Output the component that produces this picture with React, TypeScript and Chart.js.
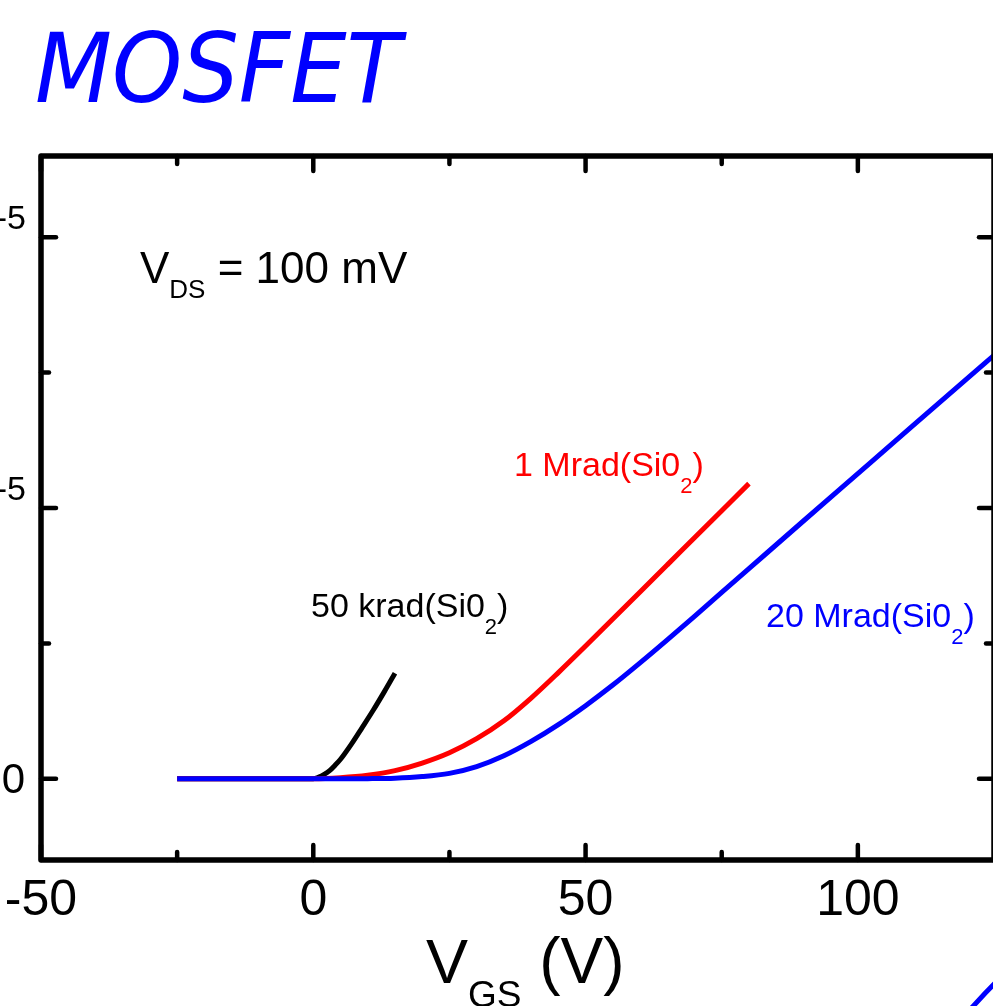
import React, { useEffect, useRef } from "react";
import { Chart, registerables } from "chart.js";

Chart.register(...registerables);

// Drain current I_D in units of 1e-5 A versus gate voltage V_GS (V)
const blackVgs = [-25, -15, -5, 0, 1, 2, 3, 4, 5, 7, 9, 11, 13, 15];
const blackId = [0, 0, 0, 0, 0.006, 0.016, 0.03, 0.05, 0.072, 0.128, 0.19, 0.253, 0.32, 0.39];

const redVgs = [-25, -10, 0, 5, 10, 15, 20, 25, 30, 35, 40, 45, 50, 55, 60, 65, 70, 75, 80];
const redId = [0, 0, 0, 0.004, 0.013, 0.03, 0.058, 0.096, 0.148, 0.214, 0.298, 0.392, 0.49, 0.59, 0.69, 0.79, 0.89, 0.99, 1.09];

const blueVgs = [-25, -10, 0, 10, 15, 20, 25, 30, 35, 40, 45, 50, 55, 60, 65, 70, 75, 80, 90, 100, 110, 120, 125];
const blueId = [0, 0, 0, 0.0005, 0.002, 0.008, 0.02, 0.045, 0.085, 0.138, 0.2, 0.27, 0.346, 0.428, 0.513, 0.6, 0.688, 0.776, 0.952, 1.127, 1.302, 1.477, 1.564];

const xMajorTicks = [-50, 0, 50, 100];
const xMinorTicks = [-25, 25, 75];
const xTickLabels = ["-50", "0", "50", "100"];
const yMajorTicks = [0, 1, 2];
const yMinorTicks = [0.5, 1.5];
const yTickLabels = ["0", "1x10", "2x10"];
const yTickExponent = "-5";

const CW = 1000;
const CH = 1006;
const SANS = "'Liberation Sans', Arial, sans-serif";

type Seg = { t: string; size: number; dy: number };

function drawRich(ctx: CanvasRenderingContext2D, x: number, y: number, segs: Seg[], color: string) {
  ctx.fillStyle = color;
  ctx.textAlign = "left";
  ctx.textBaseline = "alphabetic";
  let cx = x;
  for (const s of segs) {
    ctx.font = `${s.size}px ${SANS}`;
    ctx.fillText(s.t, cx, y + s.dy);
    cx += ctx.measureText(s.t).width;
  }
}

const decorPlugin = {
  id: "decor",
  afterDraw(chart: any) {
    const ctx: CanvasRenderingContext2D = chart.ctx;
    const { left, right, top, bottom } = chart.chartArea;
    const xs = chart.scales.x;
    const ys = chart.scales.y;
    ctx.save();

    // frame
    ctx.strokeStyle = "#000";
    ctx.lineWidth = 5.5;
    ctx.lineJoin = "round";
    ctx.strokeRect(left, top, right - left, bottom - top);

    // ticks (inward, all four sides)
    ctx.lineWidth = 4.5;
    ctx.lineCap = "round";
    const tick = (x1: number, y1: number, x2: number, y2: number) => {
      ctx.beginPath();
      ctx.moveTo(x1, y1);
      ctx.lineTo(x2, y2);
      ctx.stroke();
    };
    xMajorTicks.forEach((v) => {
      const px = xs.getPixelForValue(v);
      tick(px, bottom, px, bottom - 15);
      tick(px, top, px, top + 15);
    });
    xMinorTicks.forEach((v) => {
      const px = xs.getPixelForValue(v);
      tick(px, bottom, px, bottom - 8);
      tick(px, top, px, top + 8);
    });
    yMajorTicks.forEach((v) => {
      const py = ys.getPixelForValue(v);
      tick(left, py, left + 15, py);
      tick(right, py, right - 15, py);
    });
    yMinorTicks.forEach((v) => {
      const py = ys.getPixelForValue(v);
      tick(left, py, left + 8, py);
      tick(right, py, right - 8, py);
    });

    // x tick labels
    ctx.fillStyle = "#000";
    ctx.font = `50px ${SANS}`;
    ctx.textAlign = "center";
    ctx.textBaseline = "alphabetic";
    xMajorTicks.forEach((v, i) => {
      ctx.fillText(xTickLabels[i], xs.getPixelForValue(v), 915);
    });

    // y tick labels (left part runs off the page)
    ctx.textAlign = "right";
    yMajorTicks.forEach((v, i) => {
      const py = ys.getPixelForValue(v);
      if (v === 0) {
        ctx.font = `42px ${SANS}`;
        ctx.fillText(yTickLabels[i], 25, py + 14);
      } else {
        ctx.font = `34px ${SANS}`;
        ctx.fillText(yTickExponent, 26, py - 8);
        const ew = ctx.measureText(yTickExponent).width;
        ctx.font = `42px ${SANS}`;
        ctx.fillText(yTickLabels[i], 26 - ew, py + 14);
      }
    });

    // x axis title V_GS (V)
    drawRich(ctx, 426, 983, [
      { t: "V", size: 63, dy: 0 },
      { t: "GS", size: 37, dy: 24 },
      { t: " (V)", size: 64, dy: 0 },
    ], "#000");

    // annotation V_DS = 100 mV
    drawRich(ctx, 140, 283, [
      { t: "V", size: 44, dy: 0 },
      { t: "DS", size: 26, dy: 15 },
      { t: " = 100 mV", size: 44, dy: 0 },
    ], "#000");

    // curve labels
    const lab = (x: number, y: number, pre: string, color: string) =>
      drawRich(ctx, x, y, [
        { t: pre, size: 34, dy: 0 },
        { t: "2", size: 22, dy: 17 },
        { t: ")", size: 34, dy: 0 },
      ], color);
    lab(311, 617, "50 krad(Si0", "#000");
    lab(514, 476, "1 Mrad(Si0", "#ff0000");
    lab(766, 627, "20 Mrad(Si0", "#0000ff");

    // title
    ctx.font = `italic 96px 'DejaVu Sans', Verdana, sans-serif`;
    ctx.textAlign = "left";
    const tw = ctx.measureText("MOSFET").width;
    ctx.save();
    ctx.translate(35, 102);
    ctx.scale(366 / tw, 1);
    ctx.fillStyle = "#0000ff";
    ctx.fillText("MOSFET", 0, 0);
    ctx.restore();

    // decorative arc at bottom right
    ctx.strokeStyle = "#0000ff";
    ctx.lineWidth = 5;
    ctx.lineCap = "butt";
    ctx.beginPath();
    ctx.moveTo(968, 1012);
    ctx.quadraticCurveTo(983, 995, 998, 980);
    ctx.stroke();

    ctx.restore();
  },
};

const toPts = (xs: number[], ys: number[]) => xs.map((x, i) => ({ x, y: ys[i] }));

export default function App() {
  const ref = useRef<HTMLCanvasElement | null>(null);
  useEffect(() => {
    if (!ref.current) return;
    const chart = new Chart(ref.current, {
      type: "line",
      data: {
        datasets: [
          { label: "20 Mrad(Si02)", data: toPts(blueVgs, blueId), borderColor: "#0000ff" },
          { label: "1 Mrad(Si02)", data: toPts(redVgs, redId), borderColor: "#ff0000" },
          { label: "50 krad(Si02)", data: toPts(blackVgs, blackId), borderColor: "#000000" },
        ].map((d) => ({
          ...d,
          borderWidth: 5,
          pointRadius: 0,
          fill: false,
          cubicInterpolationMode: "monotone" as const,
        })),
      },
      options: {
        responsive: false,
        animation: false,
        devicePixelRatio: 1,
        layout: { padding: { left: 41, top: 156, right: CW - 994, bottom: CH - 860 } },
        plugins: { legend: { display: false }, tooltip: { enabled: false }, title: { display: false } },
        scales: {
          x: { type: "linear", min: -50, max: 125, display: false },
          y: { type: "linear", min: -0.3, max: 2.3, display: false },
        },
      },
      plugins: [decorPlugin],
    });
    return () => chart.destroy();
  }, []);
  return (
    <div style={{ position: "absolute", left: 0, top: 0, width: 993, height: 1006, overflow: "hidden", background: "#fff" }}>
      <canvas ref={ref} width={CW} height={CH} style={{ display: "block", width: CW, height: CH }} />
    </div>
  );
}
